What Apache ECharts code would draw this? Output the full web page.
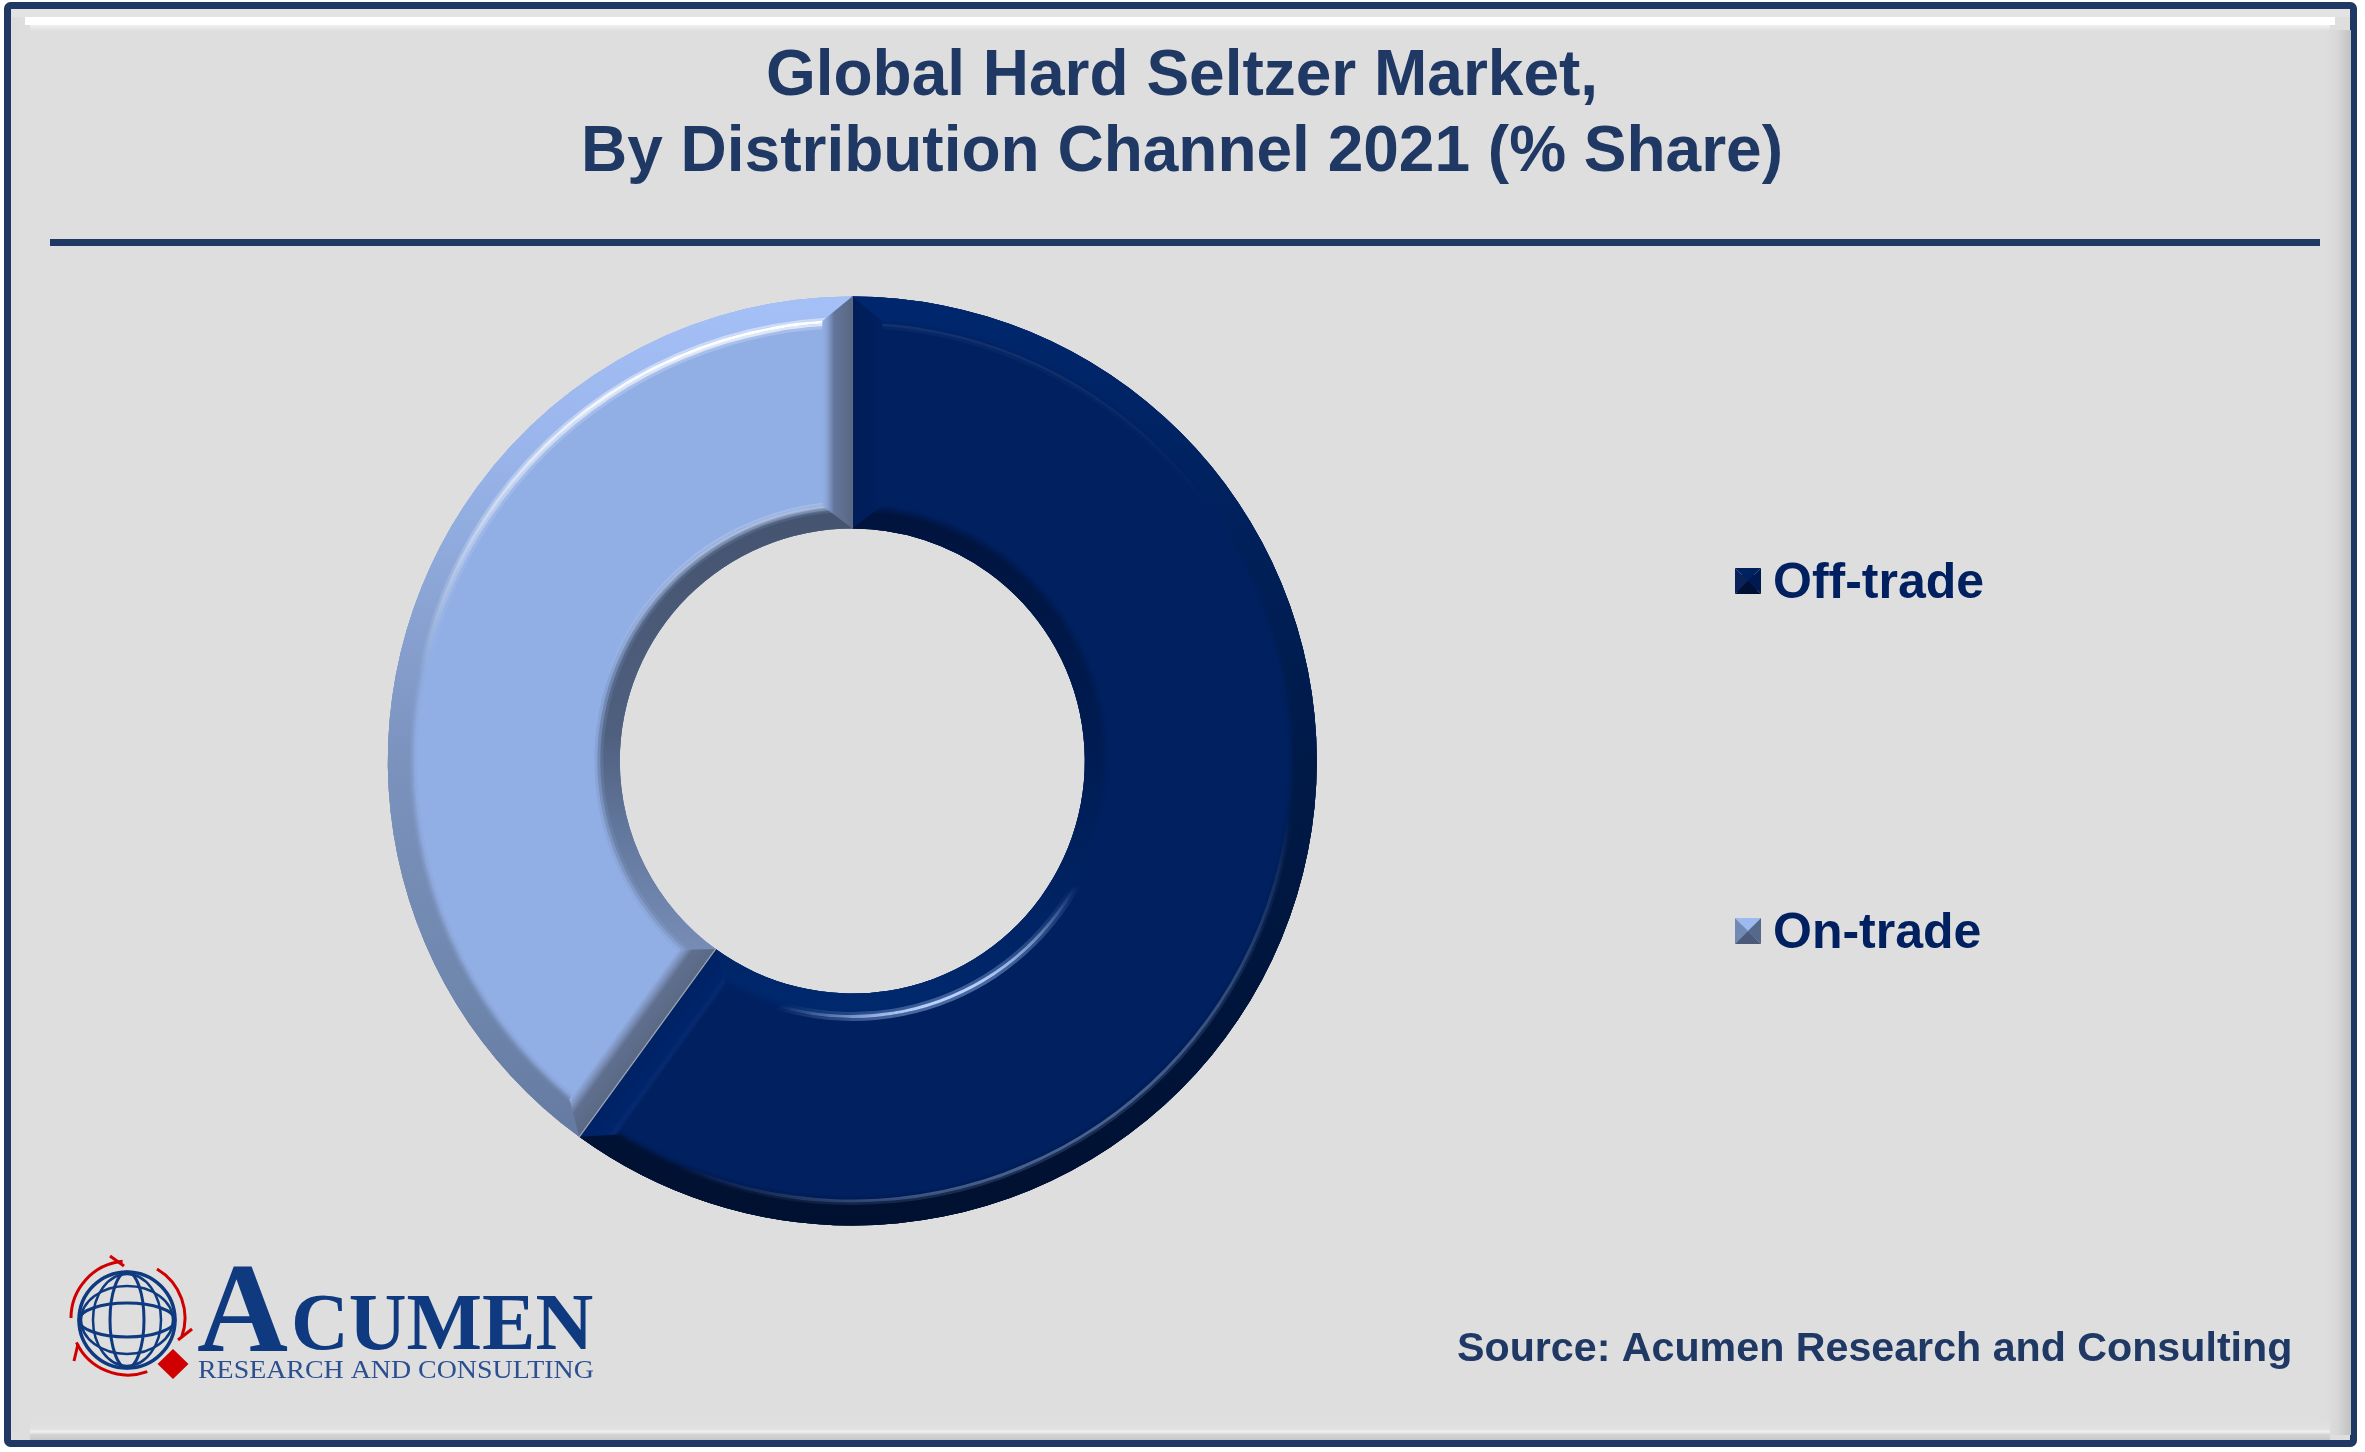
<!DOCTYPE html>
<html><head><meta charset="utf-8">
<style>html,body{margin:0;padding:0;background:#fff}#c{width:2365px;height:1452px}</style>
<script src="https://cdn.jsdelivr.net/npm/echarts@6/dist/echarts.min.js"></script>
</head><body><div id="c"></div>
<script>
const categories = ['Off-trade', 'On-trade'];
const shares = [60, 40];
const titleLines = ['Global Hard Seltzer Market,', 'By Distribution Channel 2021 (% Share)'];
const sourceText = 'Source: Acumen Research and Consulting';
const logoWords = ['A', 'CUMEN', 'RESEARCH AND CONSULTING'];

const chart = echarts.init(document.getElementById('c'), null, {renderer: 'canvas'});
const CX = 852.3, CY = 761, R = 464.5, RI = 232.5;
const FACE = ['#002060', '#92afe5'];

function grad(dir, stops, rr) {
  const t = dir * Math.PI / 180, s = Math.sin(t), c = Math.cos(t), E = rr || R;
  return new echarts.graphic.LinearGradient(
    CX - E * s, CY + E * c, CX + E * s, CY - E * c,
    stops.map(p => ({offset: p[0], color: p[1]})), true);
}
const NONE = 'rgba(0,0,0,0)';
function ring(r0, r1, specs, opacity) {
  return {
    type: 'pie', silent: true, animation: false, clockwise: true, startAngle: 90,
    center: [CX, CY], radius: [r0, r1], label: {show: false}, labelLine: {show: false},
    emphasis: {disabled: true}, z: 2,
    itemStyle: {opacity: opacity === undefined ? 1 : opacity, borderWidth: 0},
    data: categories.map((n, i) => ({
      name: n, value: shares[i],
      itemStyle: {color: specs[i] ? (typeof specs[i] === 'string' ? specs[i] : grad(specs[i][0], specs[i][1], specs[i][2])) : NONE}
    }))
  };
}
const outerRim = [
  [0, [[0, '#001030'], [0.5, '#001a48'], [1, '#00276e']]],
  [0, [[0, '#5f7398'], [0.25, '#6f86ad'], [0.5, '#7b92bd'], [0.85, '#9ab6ec'], [1, '#a4c0f6']]]
];
const innerRim = [
  [0, [[0, '#00296f'], [0.5, '#001c54'], [1, '#00133c']], 258],
  [0, [[0, '#8399c4'], [0.35, '#64799f'], [0.55, '#4f607f'], [1, '#44536e']], 258]
];
function hl(dir, col, a, from, rr) {
  const rgba = al => col.replace('A', al.toFixed(3));
  return [dir, [[0, rgba(0)], [from, rgba(0)], [from + (1 - from) * 0.5, rgba(a * 0.45)], [1, rgba(a)]], rr];
}
const W = 'rgba(255,255,255,A)', B = 'rgba(184,210,255,A)';
const series = [
  ring(RI, R, FACE),
  ring(435, R, outerRim, 0.15),
  ring(438, R, outerRim, 0.35),
  ring(440, R, outerRim, 0.55),
  ring(442, R, outerRim, 0.8),
  ring(444, R, outerRim),
  ring(RI, 258, innerRim, 0.15),
  ring(RI, 255, innerRim, 0.4),
  ring(RI, 252, innerRim, 0.7),
  ring(RI, 249, innerRim),
  ring(433, 436, [hl(10, W, 0.03, 0.85, 441), hl(-15, W, 0.2, 0.72, 441)]),
  ring(436, 438.5, [hl(10, W, 0.08, 0.85, 441), hl(-15, W, 0.7, 0.72, 441)]),
  ring(438.5, 441.5, [hl(150, B, 0.4, 0.8, 441), hl(-15, W, 1, 0.72, 441)]),
  ring(441.5, 444, [hl(150, B, 0.15, 0.8, 441), hl(-15, W, 0.45, 0.72, 441)]),
  ring(251, 254, [hl(158, B, 0.35, 0.89, 255), hl(-20, W, 0.1, 0.8, 255)]),
  ring(254, 257, [hl(158, B, 1, 0.89, 255), hl(-20, W, 0.3, 0.8, 255)]),
  ring(257, 260, [hl(158, B, 0.4, 0.89, 255), hl(-20, W, 0.15, 0.8, 255)]),
  {
    type: 'custom', coordinateSystem: 'polar', silent: true, animation: false, clip: false, z: 5,
    encode: {radius: 0, angle: 1},
    data: categories.map((n, i) => {
      const start = shares.slice(0, i).reduce((a, b) => a + b, 0);
      return [R, start, start + shares[i], i];
    }),
    renderItem: function (params, api) {
      const a0 = api.value(1), a1 = api.value(2), idx = api.value(3);
      const W2 = 30, rO = 441, rI = 257;
      const edge = (a, sign, stops) => {
        const dO = sign * (W2 / rO) / (2 * Math.PI) * 100, dI = sign * (W2 / rI) / (2 * Math.PI) * 100;
        const pts = [[R, a], [RI, a], [rI, a + dI], [rO, a + dO]].map(p => api.coord(p));
        const p0 = pts[0], p1 = pts[1];
        const dx = p1[0] - p0[0], dy = p1[1] - p0[1], l = Math.hypot(dx, dy);
        const nx = -dy / l, ny = dx / l;
        const s = nx * (pts[3][0] - p0[0]) + ny * (pts[3][1] - p0[1]) >= 0 ? 1 : -1;
        return {
          type: 'polygon', shape: {points: pts}, silent: true,
          style: {fill: new echarts.graphic.LinearGradient(
            p0[0], p0[1], p0[0] + s * nx * W2, p0[1] + s * ny * W2,
            stops.map(q => ({offset: q[0], color: q[1]})), true)}
        };
      };
      const children = idx === 0 ? [
        edge(a0, 1, [[0, '#001d58'], [0.7, '#001f5c'], [1, '#002060']]),
        edge(a1, -1, [[0, '#002266'], [0.7, '#00246a'], [0.87, '#07296f'], [1, '#002060']])
      ] : [
        edge(a0, 1, [[0, '#5a6985'], [0.6, '#5f6f8e'], [0.8, '#7d91bb'], [1, '#92afe5']]),
        edge(a1, -1, [[0, '#586783'], [0.6, '#64759a'], [0.85, '#8aa4d6'], [1, '#92afe5']])
      ];
      const c0 = api.coord([R, a0]), c1 = api.coord([RI, a0]);
      children.push({type: 'line', shape: {x1: c0[0], y1: c0[1], x2: c1[0], y2: c1[1]}, style: {stroke: idx === 0 ? '#6f7684' : '#a0a6b0', lineWidth: 1.2}});
      return {type: 'group', children: children};
    }
  }
];

const NAVY = '#1f3864';
function tri(pts, fill) { return {type: 'polygon', z: 50, silent: true, shape: {points: pts}, style: {fill: fill}}; }
function swatch(x, y, s, c) {
  const m = [x + s / 2, y + s / 2], a = [x, y], b = [x + s, y], d = [x + s, y + s], e = [x, y + s];
  return [tri([a, b, m], c[0]), tri([a, e, m], c[1]), tri([b, d, m], c[2]), tri([e, d, m], c[3])];
}
const bevel = (x, y, w, h, x2, y2, stops) => ({
  type: 'rect', z: -9, silent: true, shape: {x, y, width: w, height: h},
  style: {fill: new echarts.graphic.LinearGradient(x, y, x2, y2, stops.map(p => ({offset: p[0], color: p[1]})), true)}
});
const BG = '#dedede', LOGO = '#0f3a80', RED = '#d00000';
const outline = (o) => Object.assign({z: 40, silent: true}, o);
const graphics = [
  {type: 'rect', z: -10, silent: true, shape: {x: 7.5, y: 5.5, width: 2346, height: 1438, r: 3}, style: {fill: BG, stroke: NAVY, lineWidth: 7}},
  {type: 'rect', z: -9, silent: true, shape: {x: 25, y: 17, width: 2310, height: 8}, style: {fill: '#ffffff'}},
  bevel(30, 25, 2300, 6, 30, 31, [[0, '#f0f0f0'], [1, BG]]),
  {type: 'rect', z: -9, silent: true, shape: {x: 12, y: 9, width: 2338, height: 8}, style: {fill: '#e3e3e3'}},
  bevel(12, 17, 11, 1415, 23, 17, [[0, '#dcdcdc'], [1, BG]]),
  bevel(2325, 30, 26, 1405, 2351, 30, [[0, BG], [0.45, '#d8d8d8'], [1, '#c2c2c2']]),
  bevel(30, 1422, 2300, 18, 30, 1440, [[0, BG], [0.4, '#e2e2e2'], [0.55, '#f0f0f0'], [0.7, '#d4d4d4'], [1, '#c8c8c8']]),
  {type: 'rect', z: -8, silent: true, shape: {x: 50, y: 239, width: 2270, height: 7}, style: {fill: NAVY}},
  outline({type: 'circle', shape: {cx: 127, cy: 1320, r: 48}, style: {fill: 'none', stroke: LOGO, lineWidth: 3.5}}),
  outline({type: 'ellipse', shape: {cx: 127, cy: 1320, rx: 48, ry: 17}, style: {fill: 'none', stroke: LOGO, lineWidth: 3}}),
  outline({type: 'ellipse', shape: {cx: 127, cy: 1320, rx: 46, ry: 34}, style: {fill: 'none', stroke: LOGO, lineWidth: 2.5}}),
  outline({type: 'ellipse', shape: {cx: 127, cy: 1320, rx: 17, ry: 48}, style: {fill: 'none', stroke: LOGO, lineWidth: 3}}),
  outline({type: 'ellipse', shape: {cx: 127, cy: 1320, rx: 34, ry: 46}, style: {fill: 'none', stroke: LOGO, lineWidth: 2.5}}),
  outline({type: 'arc', shape: {cx: 128, cy: 1318, r: 57, startAngle: Math.PI, endAngle: 1.47 * Math.PI, clockwise: true}, style: {fill: 'none', stroke: RED, lineWidth: 3}}),
  outline({type: 'arc', shape: {cx: 128, cy: 1318, r: 57, startAngle: 1.67 * Math.PI, endAngle: 0.11 * Math.PI, clockwise: true}, style: {fill: 'none', stroke: RED, lineWidth: 3}}),
  outline({type: 'arc', shape: {cx: 128, cy: 1318, r: 57, startAngle: 0.39 * Math.PI, endAngle: 0.86 * Math.PI, clockwise: true}, style: {fill: 'none', stroke: RED, lineWidth: 3}}),
  outline({type: 'polyline', shape: {points: [[110, 1256], [124, 1266]]}, style: {fill: 'none', stroke: RED, lineWidth: 3}}),
  outline({type: 'polyline', shape: {points: [[178, 1340], [192, 1329]]}, style: {fill: 'none', stroke: RED, lineWidth: 3}}),
  outline({type: 'polyline', shape: {points: [[78, 1344], [74, 1361]]}, style: {fill: 'none', stroke: RED, lineWidth: 3}}),
  outline({type: 'polygon', shape: {points: [[173, 1349], [188.5, 1364], [173, 1379], [157.5, 1364]]}, style: {fill: RED}}),
  outline({type: 'text', style: {text: logoWords[0], x: 197, y: 1381, fill: LOGO, font: 'bold 126px "Liberation Serif"', textAlign: 'left', textVerticalAlign: 'bottom'}}),
  outline({type: 'text', style: {text: logoWords[1], x: 291, y: 1368, fill: LOGO, font: 'bold 80px "Liberation Serif"', textAlign: 'left', textVerticalAlign: 'bottom'}}),
  outline({type: 'text', originX: 198, originY: 1384, scaleX: 1.073, style: {text: logoWords[2], x: 198, y: 1384, fill: '#2c4f92', font: '26px "Liberation Serif"', textAlign: 'left', textVerticalAlign: 'bottom'}})
].concat(
  swatch(1735, 568, 26, ['#00215f', '#0a2258', '#001a50', '#000f33']),
  swatch(1735, 918, 26, ['#9dbaf0', '#7089b5', '#55688a', '#4a5a78'])
);

chart.setOption({
  backgroundColor: '#ffffff',
  animation: false,
  title: [
    {text: titleLines.join('\n'), left: 1177, top: 34, textAlign: 'center',
     textStyle: {fontFamily: 'Liberation Sans', fontWeight: 'bold', fontSize: 64, lineHeight: 76, color: NAVY}},
    {text: sourceText, left: 1452, top: 1324,
     textStyle: {fontFamily: 'Liberation Sans', fontWeight: 'bold', fontSize: 41.2, color: NAVY}}
  ],
  polar: {center: [CX, CY], radius: R},
  angleAxis: {show: false, min: 0, max: 100, startAngle: 90, clockwise: true},
  radiusAxis: {show: false, min: 0, max: R},
  legend: {
    orient: 'vertical', left: 1737, top: 559, padding: 0, itemWidth: 20, itemHeight: 18, itemGap: 300,
    selectedMode: false, icon: 'rect', data: categories,
    textStyle: {fontFamily: 'Liberation Sans', fontWeight: 'bold', fontSize: 50, color: '#002060', padding: [0, 0, 0, 11]}
  },
  series: series,
  graphic: {elements: graphics}
});
</script></body></html>
